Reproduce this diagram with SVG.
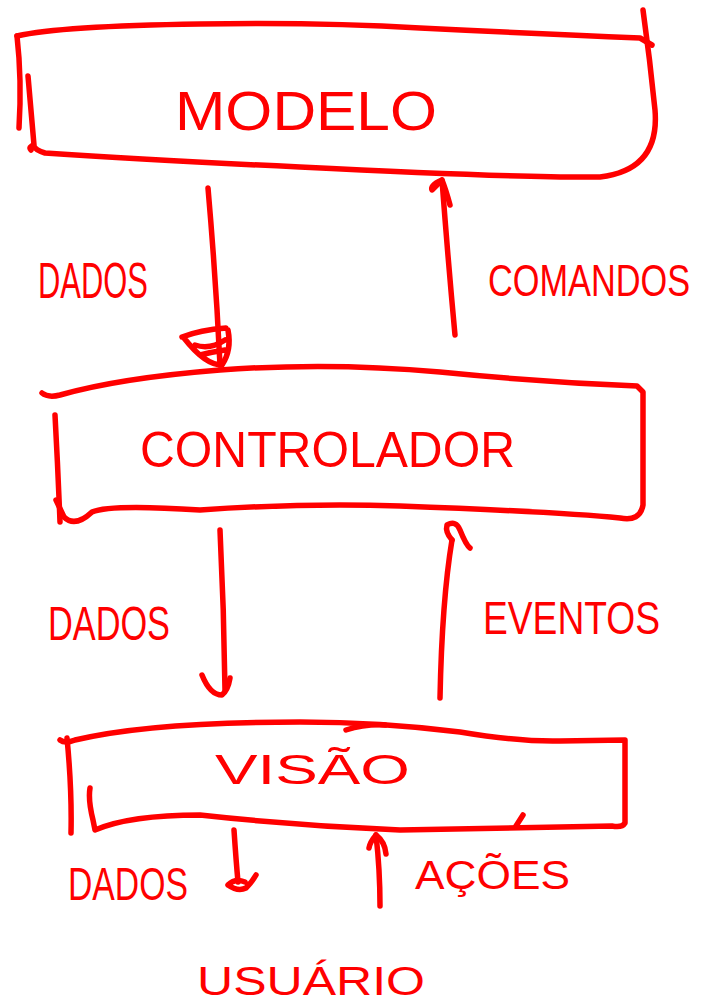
<svg xmlns="http://www.w3.org/2000/svg" width="710" height="1005" viewBox="0 0 710 1005">
<style>
.s{fill:none;stroke:#ff0000;stroke-width:5.5;stroke-linecap:round;stroke-linejoin:round}
.t{fill:#ff0000;font-family:"Liberation Sans",Arial,sans-serif;font-weight:normal}
</style>
<rect width="710" height="1005" fill="#ffffff"/>
<g id="modelo">
<path class="s" d="M17,36 Q60,26 200,24 Q320,22 420,28 Q540,34 640,38 L652,45"/>
<path class="s" d="M643,10 Q650,60 655,110 Q660,170 600,177 Q520,178 300,167 Q150,160 45,153 Q35,150 33,145"/>
<path class="s" d="M17,36 Q22,80 19,128"/>
<path class="s" d="M28,76 Q31,110 34,145 Q28,147 31,150"/>
<text class="t" x="175" y="130" font-size="56" textLength="262" lengthAdjust="spacingAndGlyphs">MODELO</text>
</g>
<g id="controlador">
<path class="s" d="M42,393 Q48,398 60,395 Q120,378 220,370 Q330,362 440,372 Q540,382 637,386 L643,392 L643,505 Q640,522 620,518 Q560,512 400,506 Q300,503 200,510 Q110,504 92,512 Q75,528 64,517 L56,500"/>
<path class="s" d="M55,415 Q58,470 60,522"/>
<text class="t" x="140" y="467" font-size="50" textLength="375" lengthAdjust="spacingAndGlyphs">CONTROLADOR</text>
</g>
<g id="visao">
<path class="s" d="M60,740 Q65,744 75,740 Q150,722 300,722 Q380,722 460,732 Q520,742 560,741 L625,740 L625,823 Q622,828 612,826 L400,830 Q300,826 200,815 Q130,815 95,830 L93,820 Q88,800 90,788"/>
<path class="s" d="M67,738 Q72,790 71,833"/>
<path class="s" d="M346,730 Q365,724 385,725"/>
<path class="s" d="M516,826 L523,815"/>
<text class="t" x="215" y="784" font-size="42" textLength="195" lengthAdjust="spacingAndGlyphs">VISÃO</text>
</g>
<g id="usuario">
<text class="t" x="197" y="995" font-size="40" textLength="228" lengthAdjust="spacingAndGlyphs">USUÁRIO</text>
</g>
<g id="connectors">
<path class="s" d="M208,188 Q216,280 220,365"/>
<path class="s" d="M182,337 Q200,330 226,328 M184,338 Q205,365 222,365 Q232,350 228,330 M195,345 Q210,350 225,340 M200,355 Q212,352 225,350"/>
<path class="s" d="M455,335 Q448,260 442,180"/>
<path class="s" d="M442,180 Q430,185 432,190 Q436,186 442,180 Q446,190 450,205"/>
<path class="s" d="M220,530 Q224,610 225,690"/>
<path class="s" d="M202,675 Q210,695 222,695 Q228,690 230,678"/>
<path class="s" d="M440,698 Q442,600 452,540"/>
<path class="s" d="M452,540 Q445,532 447,525 Q456,520 460,530 Q466,545 470,548"/>
<path class="s" d="M234,830 Q236,860 238,882"/>
<path class="s" d="M228,885 Q235,878 245,882 M228,885 Q238,892 246,888 Q252,882 256,875"/>
<path class="s" d="M380,906 Q380,870 376,835"/>
<path class="s" d="M376,835 Q370,842 369,848 M376,835 Q385,842 386,854"/>
</g>
<g id="labels">
<text class="t" x="38" y="298" font-size="50" textLength="110" lengthAdjust="spacingAndGlyphs">DADOS</text>
<text class="t" transform="translate(488,296) scale(0.78,1)" x="0" y="0" font-size="44">COMANDOS</text>
<text class="t" x="48" y="640" font-size="48" textLength="122" lengthAdjust="spacingAndGlyphs">DADOS</text>
<text class="t" x="483" y="634" font-size="46" textLength="177" lengthAdjust="spacingAndGlyphs">EVENTOS</text>
<text class="t" x="68" y="900" font-size="46" textLength="120" lengthAdjust="spacingAndGlyphs">DADOS</text>
<text class="t" x="415" y="889" font-size="40" textLength="155" lengthAdjust="spacingAndGlyphs">AÇÕES</text>
</g>
</svg>
